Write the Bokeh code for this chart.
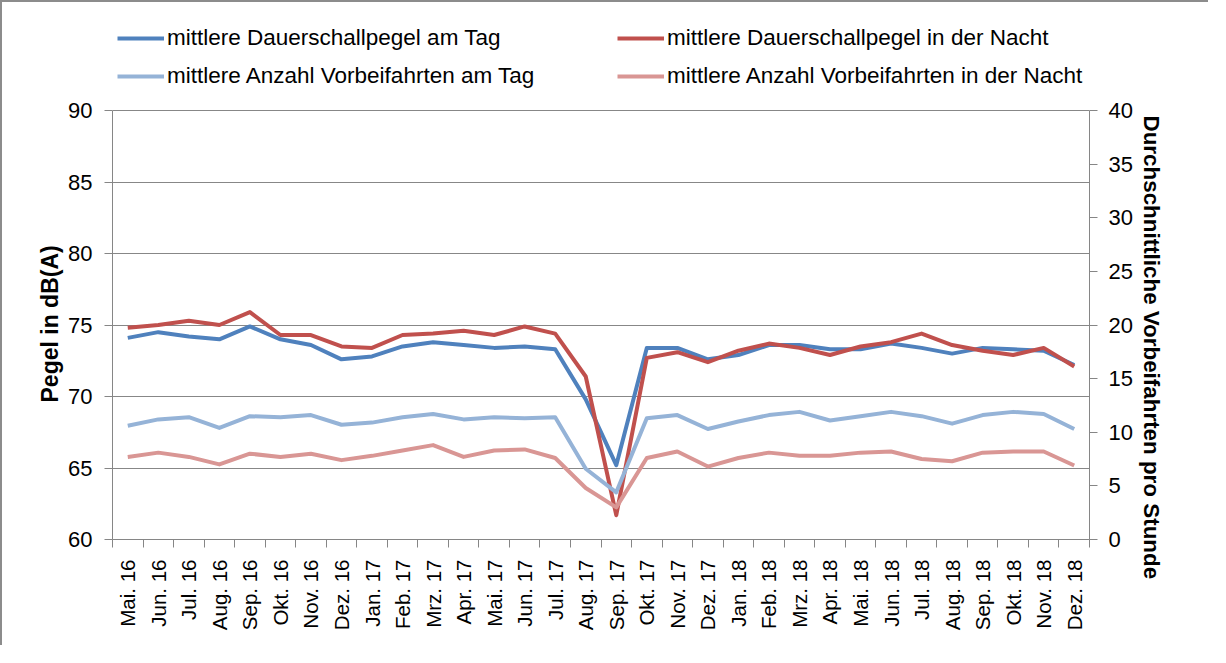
import math
from bokeh.plotting import figure
from bokeh.models import Range1d, LinearAxis, FixedTicker, Legend, LegendItem, Title
from bokeh.embed import file_html
from bokeh.resources import INLINE

months = ["Mai. 16", "Jun. 16", "Jul. 16", "Aug. 16", "Sep. 16", "Okt. 16", "Nov. 16", "Dez. 16",
          "Jan. 17", "Feb. 17", "Mrz. 17", "Apr. 17", "Mai. 17", "Jun. 17", "Jul. 17", "Aug. 17",
          "Sep. 17", "Okt. 17", "Nov. 17", "Dez. 17", "Jan. 18", "Feb. 18", "Mrz. 18", "Apr. 18",
          "Mai. 18", "Jun. 18", "Jul. 18", "Aug. 18", "Sep. 18", "Okt. 18", "Nov. 18", "Dez. 18"]

pegel_tag = [74.1, 74.5, 74.2, 74.0, 74.9, 74.0, 73.6, 72.6, 72.8, 73.5, 73.8, 73.6, 73.4, 73.5, 73.3, 69.8,
             65.2, 73.4, 73.4, 72.6, 72.9, 73.6, 73.6, 73.3, 73.3, 73.7, 73.4, 73.0, 73.4, 73.3, 73.2, 72.2]
pegel_nacht = [74.8, 75.0, 75.3, 75.0, 75.9, 74.3, 74.3, 73.5, 73.4, 74.3, 74.4, 74.6, 74.3, 74.9, 74.4, 71.4,
               61.7, 72.7, 73.1, 72.4, 73.2, 73.7, 73.4, 72.9, 73.5, 73.8, 74.4, 73.6, 73.2, 72.9, 73.4, 72.1]
anzahl_tag = [10.6, 11.2, 11.4, 10.4, 11.5, 11.4, 11.6, 10.7, 10.9, 11.4, 11.7, 11.2, 11.4, 11.3, 11.4, 6.6,
              4.4, 11.3, 11.6, 10.3, 11.0, 11.6, 11.9, 11.1, 11.5, 11.9, 11.5, 10.8, 11.6, 11.9, 11.7, 10.3]
anzahl_nacht = [7.7, 8.1, 7.7, 7.0, 8.0, 7.7, 8.0, 7.4, 7.8, 8.3, 8.8, 7.7, 8.3, 8.4, 7.6, 4.8,
                3.0, 7.6, 8.2, 6.8, 7.6, 8.1, 7.8, 7.8, 8.1, 8.2, 7.5, 7.3, 8.1, 8.2, 8.2, 6.9]

left_ticks = [60, 65, 70, 75, 80, 85, 90]
right_ticks = [0, 5, 10, 15, 20, 25, 30, 35, 40]
left_title = "Pegel in dB(A)"
right_title = "Durchschnittliche Vorbeifahrten pro Stunde"
legend_labels = ["mittlere Dauerschallpegel am Tag", "mittlere Dauerschallpegel in der Nacht",
                 "mittlere Anzahl Vorbeifahrten am Tag", "mittlere Anzahl Vorbeifahrten in der Nacht"]

FONT = "Liberation Sans"
AXIS_COL = "#868686"

# layout: the frame extends above the plotted area so that the legend can live inside it
W, H = 1208, 645
FRAME_TOP, FRAME_BOTTOM = 10, 537         # canvas px
AXIS_TOP = 108                            # canvas px where 90 dB / 40 sit
frame_h = FRAME_BOTTOM - FRAME_TOP
axis_h = FRAME_BOTTOM - AXIS_TOP
ymin_l, ymax_l = left_ticks[0], left_ticks[-1]
ymin_r, ymax_r = right_ticks[0], right_ticks[-1]
yend_l = ymin_l + (ymax_l - ymin_l) * frame_h / axis_h
yend_r = ymin_r + (ymax_r - ymin_r) * frame_h / axis_h

x = list(range(len(months)))

p = figure(width=W, height=H, output_backend="svg", toolbar_location=None,
           x_range=Range1d(-0.5, len(months) - 0.5), y_range=Range1d(ymin_l, yend_l),
           min_border_left=110, min_border_right=121, min_border_top=FRAME_TOP,
           min_border_bottom=H - FRAME_BOTTOM)
p.styles = {"border-top": "2px solid #8c8c8c", "border-left": "2px solid #8c8c8c"}
p.extra_y_ranges = {"right": Range1d(ymin_r, yend_r)}
p.outline_line_color = None
p.background_fill_color = "white"
p.border_fill_color = "white"

r1 = p.line(x, pegel_tag, line_color="#4F81BD", line_width=4, line_join="round")
r2 = p.line(x, pegel_nacht, line_color="#C0504D", line_width=4, line_join="round")
r3 = p.line(x, anzahl_tag, y_range_name="right", line_color="#95B3D7", line_width=4, line_join="round")
r4 = p.line(x, anzahl_nacht, y_range_name="right", line_color="#D99694", line_width=4, line_join="round")

# x axis
xa = p.xaxis[0]
xa.ticker = FixedTicker(ticks=x, minor_ticks=[i - 0.5 for i in range(len(months) + 1)])
xa.major_label_overrides = {i: m for i, m in enumerate(months)}
xa.major_label_orientation = math.pi / 2
xa.major_tick_out = 0
xa.major_tick_in = 0
xa.minor_tick_out = 8
xa.minor_tick_in = 0
xa.minor_tick_line_color = AXIS_COL
xa.axis_line_color = AXIS_COL
xa.major_label_standoff = 12
xa.major_label_text_font = FONT
xa.major_label_text_font_size = "20.5px"
xa.major_label_text_color = "black"

# left axis
lt = FixedTicker(ticks=left_ticks)
ya = p.yaxis[0]
ya.ticker = lt
ya.bounds = (ymin_l, ymax_l)
p.ygrid.ticker = lt
ya.major_label_text_font = FONT
ya.major_label_text_font_size = "22px"
ya.major_label_text_color = "black"
ya.major_label_standoff = 12
ya.major_tick_out = 8
ya.major_tick_in = 0
ya.minor_tick_out = 0
ya.minor_tick_in = 0
ya.axis_line_color = AXIS_COL
ya.major_tick_line_color = AXIS_COL

p.xgrid.visible = False
p.ygrid.grid_line_color = "#878787"
p.ygrid.grid_line_width = 1

# right axis
ra = LinearAxis(y_range_name="right", ticker=FixedTicker(ticks=right_ticks),
                bounds=(ymin_r, ymax_r))
ra.major_label_text_font = FONT
ra.major_label_text_font_size = "22px"
ra.major_label_text_color = "black"
ra.major_label_standoff = 11
ra.major_tick_out = 8
ra.major_tick_in = 0
ra.minor_tick_out = 0
ra.minor_tick_in = 0
ra.axis_line_color = AXIS_COL
ra.major_tick_line_color = AXIS_COL
p.add_layout(ra, "right")

# axis titles (placed as side titles so they can be positioned along the axis)
lt_title = Title(text=left_title, align="left", vertical_align="bottom", offset=137, standoff=6,
                 text_font=FONT, text_font_size="23px", text_font_style="bold", text_color="black")
rt_title = Title(text=right_title, align="left", vertical_align="bottom", offset=103, standoff=6,
                 text_font=FONT, text_font_size="22.4px", text_font_style="bold", text_color="black")
p.add_layout(lt_title, "left")
p.add_layout(rt_title, "right")


def make_legend(items, loc):
    lg = Legend(items=items, location=loc, orientation="vertical")
    lg.label_text_font = FONT
    lg.label_text_font_size = "22.5px"
    lg.label_text_color = "black"
    lg.glyph_width = 47
    lg.glyph_height = 30
    lg.label_height = 30
    lg.spacing = 8
    lg.padding = 0
    lg.margin = 0
    lg.label_standoff = 3
    lg.border_line_color = None
    lg.background_fill_alpha = 0
    return lg


leg_y = FRAME_BOTTOM - 89
leg1 = make_legend([LegendItem(label=legend_labels[0], renderers=[r1]),
                    LegendItem(label=legend_labels[2], renderers=[r3])], (5, leg_y))
leg2 = make_legend([LegendItem(label=legend_labels[1], renderers=[r2]),
                    LegendItem(label=legend_labels[3], renderers=[r4])], (505, leg_y))
p.add_layout(leg1)
p.add_layout(leg2)

open("out.html", "w").write(file_html(p, INLINE))
